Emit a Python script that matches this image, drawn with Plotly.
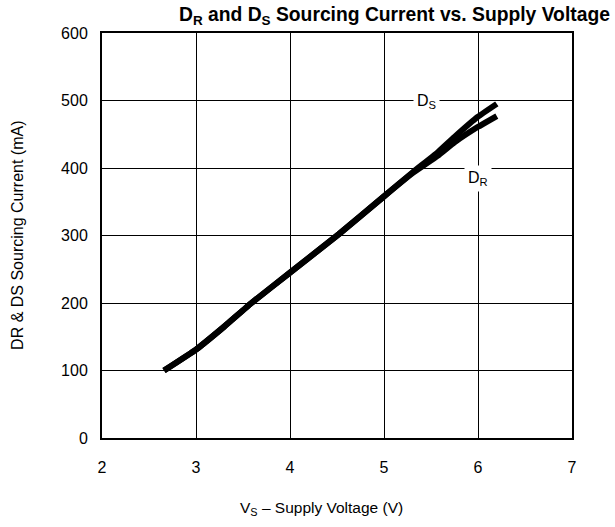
import plotly.graph_objects as go

# Data
vs_ds = [2.66, 3.0, 3.3, 3.59, 4.0, 4.52, 5.0, 5.3, 5.57, 5.75, 6.0, 6.2]
ds_ma = [100, 131, 165, 200, 245, 302, 358, 393, 423, 446, 476, 495]
vs_dr = [2.66, 3.0, 3.3, 3.59, 4.0, 4.52, 5.0, 5.3, 5.57, 5.75, 6.0, 6.2]
dr_ma = [100, 131, 165, 200, 245, 302, 358, 392, 418, 438, 461, 477]

x_ticks = [2, 3, 4, 5, 6, 7]
y_ticks = [0, 100, 200, 300, 400, 500, 600]

FONT = "Liberation Sans, Arial, Helvetica, sans-serif"

fig = go.Figure()
fig.add_trace(go.Scatter(x=vs_dr, y=dr_ma, mode="lines", name="DR",
                         line=dict(color="black", width=6, shape="spline", smoothing=0.3)))
fig.add_trace(go.Scatter(x=vs_ds, y=ds_ma, mode="lines", name="DS",
                         line=dict(color="black", width=6, shape="spline", smoothing=0.3)))

fig.update_layout(
    width=615, height=527,
    margin=dict(l=102, r=43, t=33, b=89, autoexpand=False),
    paper_bgcolor="white", plot_bgcolor="white",
    showlegend=False,
    font=dict(family=FONT, size=15, color="black"),
    xaxis=dict(range=[2, 7], tickvals=x_ticks, showgrid=True, gridcolor="black", gridwidth=1,
               zeroline=False, showline=True, linecolor="black", linewidth=2, mirror=True,
               ticks="", ticklabelstandoff=14, tickfont=dict(size=16), automargin=False),
    yaxis=dict(range=[0, 600], tickvals=y_ticks, showgrid=True, gridcolor="black", gridwidth=1,
               zeroline=False, showline=True, linecolor="black", linewidth=2, mirror=True,
               ticks="", ticklabelstandoff=9, tickfont=dict(size=16), automargin=False),
    annotations=[
        dict(text="<b>D<sub>R</sub> and D<sub>S</sub> Sourcing Current vs. Supply Voltage</b>",
             xref="paper", yref="paper", x=1.085, y=1.042, xanchor="right", yanchor="middle",
             showarrow=False, font=dict(family=FONT, size=19.3, color="black")),
        dict(text="V<sub>S</sub> – Supply Voltage (V)", xref="paper", yref="paper",
             x=0.466, y=-0.173, xanchor="center", yanchor="middle", showarrow=False,
             font=dict(size=15.5)),
        dict(text="DR & DS Sourcing Current (mA)", xref="paper", yref="paper",
             x=-0.18, y=0.5, xanchor="center", yanchor="middle", textangle=-90,
             showarrow=False, font=dict(size=16)),
        dict(text="D<sub>S</sub>", x=5.45, y=498, showarrow=False, bgcolor="white",
             font=dict(size=16), borderpad=3, xanchor="center", yanchor="middle"),
        dict(text="D<sub>R</sub>", x=6.0, y=385, showarrow=False, bgcolor="white",
             font=dict(size=16), borderpad=3, xanchor="center", yanchor="middle"),
    ],
)

fig.write_html("out.html", config={"displayModeBar": False},
               post_script="document.body.style.margin='0';")
